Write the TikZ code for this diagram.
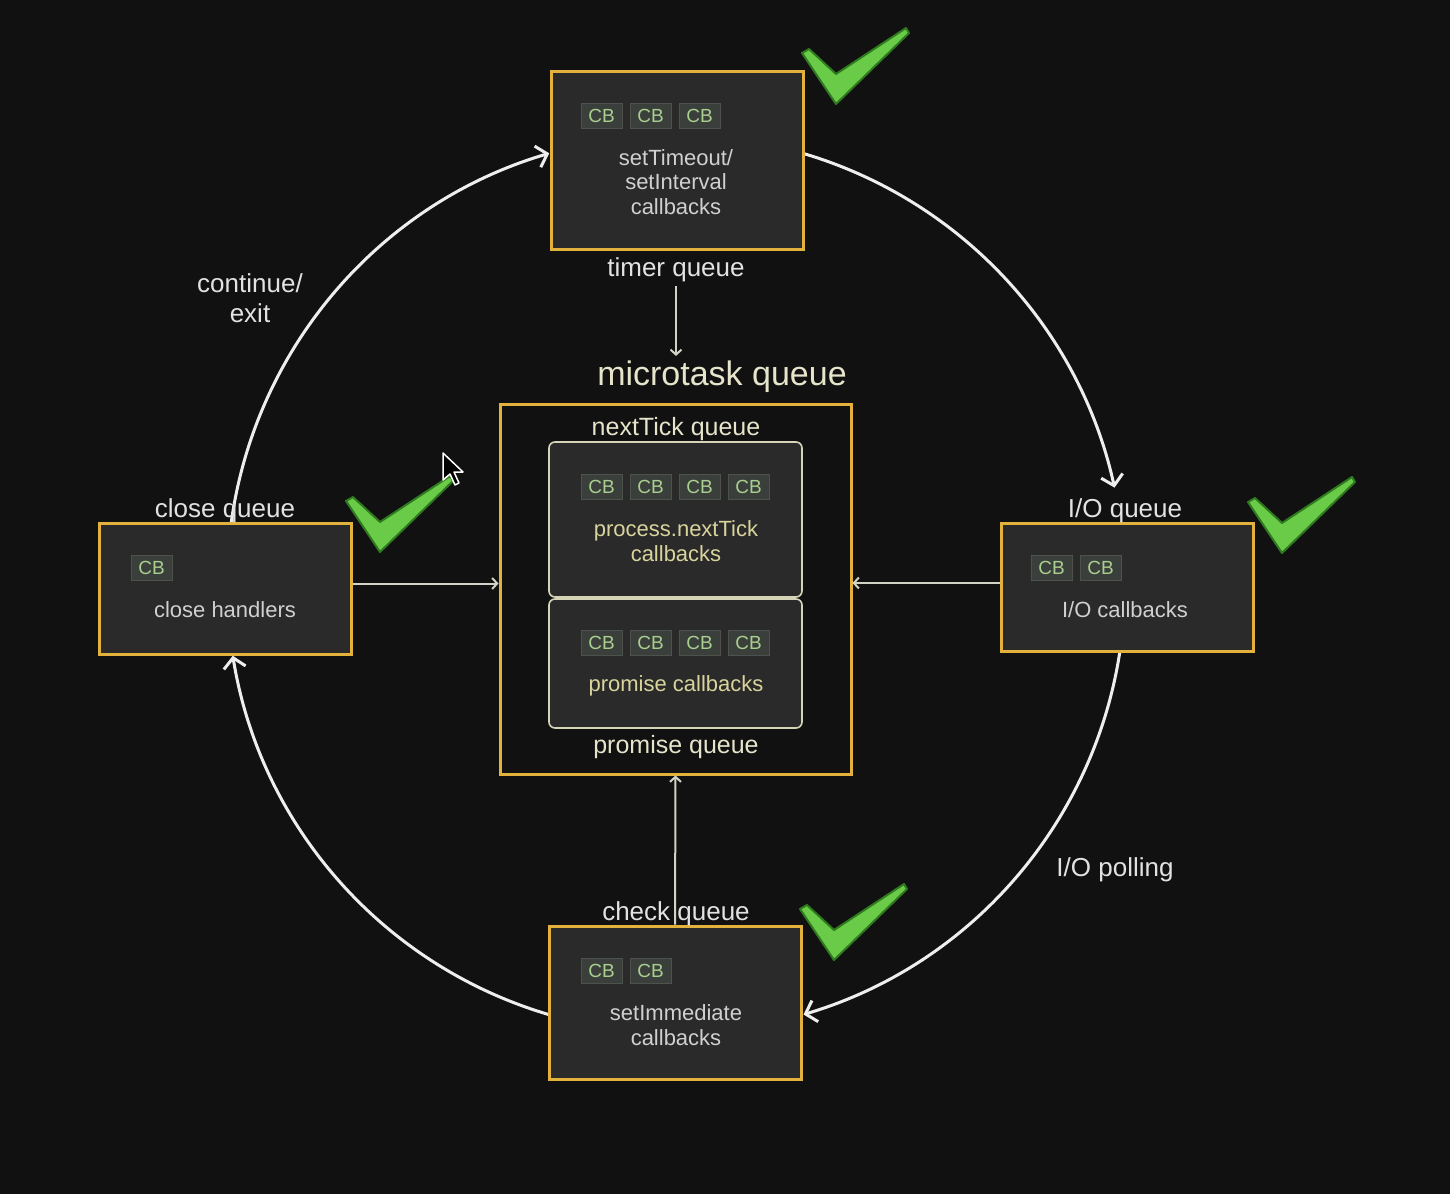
\documentclass[tikz,border=0pt]{standalone}
\usepackage{fontspec}
\setmainfont{Liberation Sans}
\usetikzlibrary{arrows.meta,calc}
\definecolor{bg}{HTML}{111111}
\definecolor{boxfill}{HTML}{2A2A2A}
\definecolor{qyellow}{HTML}{E3B23C}
\definecolor{innertxt}{HTML}{D0D0D0}
\definecolor{lbltxt}{HTML}{E2E2E2}
\definecolor{cream}{HTML}{E6E4CA}
\definecolor{creamtxt}{HTML}{D9D49C}
\definecolor{creamborder}{HTML}{D6D4B6}
\definecolor{chipfill}{HTML}{3B3F3B}
\definecolor{chipborder}{HTML}{4D524D}
\definecolor{chiptxt}{HTML}{A9CF8F}
\definecolor{loopcol}{HTML}{EEEEEE}
\definecolor{thincol}{HTML}{D2D2C6}
\definecolor{tickfill}{HTML}{6ACB48}
\definecolor{tickedge}{HTML}{2F7A1F}
\tikzset{
  qbox/.style={draw=qyellow, line width=3pt, fill=boxfill, inner sep=0pt},
  microbox/.style={draw=qyellow, line width=3pt, fill=bg, inner sep=0pt},
  innerbox/.style={draw=creamborder, line width=1.6pt, fill=boxfill, rounded corners=6pt, inner sep=0pt},
  cb/.style={draw=chipborder, line width=1pt, fill=chipfill, text=chiptxt, minimum width=41pt, minimum height=25pt, inner sep=0pt, font=\fontsize{19}{19}\selectfont},
  intext/.style={text=innertxt, align=center, inner sep=0pt, font=\fontsize{22}{24.5}\selectfont},
  crtext/.style={text=creamtxt, align=center, inner sep=0pt, font=\fontsize{22}{24.5}\selectfont},
  lbl/.style={text=lbltxt, align=center, inner sep=0pt, font=\fontsize{26}{30}\selectfont},
  crlbl/.style={text=cream, align=center, inner sep=0pt, font=\fontsize{25}{30}\selectfont},
  looparrow/.style={draw=loopcol, line width=3pt, -{Straight Barb[length=10pt,width=22pt]}},
  thinarrow/.style={draw=thincol, line width=2pt, -{Straight Barb[length=5pt,width=11pt]}},
  tick/.style={fill=tickfill, draw=tickedge, line width=2pt, line join=round}
}
\newcommand\drawtick[1]{%
  \filldraw[tick, shift={#1}] (0,0) -- (-34,-51) -- (-27,-55) -- (0,-30) -- (70,-76) -- (73,-71) -- cycle;}
\begin{document}
\begin{tikzpicture}[x=1pt,y=-1pt]
\fill[bg] (0,0) rectangle (1450,1194);
\useasboundingbox (0,0) rectangle (1450,1194);

% circle centre
\coordinate (O) at (676,584);
\coordinate (a1s) at ($(O)+(-172.1:449)$);
\coordinate (a2s) at ($(O)+(-73.4:449)$);
\coordinate (a3s) at ($(O)+(8.7:449)$);
\coordinate (a4s) at ($(O)+(106.5:449)$);

% loop arcs
\draw[looparrow] (a1s) arc[start angle=-172.1, end angle=-106.4, radius=449];
\draw[looparrow] (a2s) arc[start angle=-73.4, end angle=-12.4, radius=449];
\draw[looparrow] (a3s) arc[start angle=8.7, end angle=73.5, radius=449];
\draw[looparrow] (a4s) arc[start angle=106.5, end angle=170.8, radius=449];

% boxes
\node[qbox, minimum width=252pt, minimum height=178pt] (timer) at (677,160) {};
\node[microbox, minimum width=351pt, minimum height=370pt] (micro) at (675.5,589) {};
\node[innerbox, minimum width=253pt, minimum height=155pt] (ntbox) at (675.5,519.5) {};
\node[innerbox, minimum width=253pt, minimum height=129pt] (prbox) at (675.5,663.5) {};
\node[qbox, minimum width=252pt, minimum height=131pt] (close) at (225,588.5) {};
\node[qbox, minimum width=252pt, minimum height=128pt] (io) at (1127,587) {};
\node[qbox, minimum width=252pt, minimum height=153pt] (check) at (675,1002.5) {};

% chips
\node[cb] (t1) at (601.5,115.5) {CB};
\node[cb] (t2) at (650.5,115.5) {CB};
\node[cb] (t3) at (699.5,115.5) {CB};
\node[cb] (n1) at (601.5,486.5) {CB};
\node[cb] (n2) at (650.5,486.5) {CB};
\node[cb] (n3) at (699.5,486.5) {CB};
\node[cb] (n4) at (748.5,486.5) {CB};
\node[cb] (p1) at (601.5,642.5) {CB};
\node[cb] (p2) at (650.5,642.5) {CB};
\node[cb] (p3) at (699.5,642.5) {CB};
\node[cb] (p4) at (748.5,642.5) {CB};
\node[cb] (c1) at (151.5,567.5) {CB};
\node[cb] (i1) at (1051.5,567.5) {CB};
\node[cb] (i2) at (1100.5,567.5) {CB};
\node[cb] (k1) at (601.5,970.5) {CB};
\node[cb] (k2) at (650.5,970.5) {CB};

% texts
\node[intext] (timertxt) at (676,182) {setTimeout/\\setInterval\\callbacks};
\node[lbl] (timerlbl) at (676,270) {timer queue};
\node[crlbl, font=\fontsize{34}{40}\selectfont] (microlbl) at (722,377) {microtask queue};
\node[crlbl] (ntlbl) at (676,429) {nextTick queue};
\node[crtext] (nttxt) at (676,541) {process.nextTick\\callbacks};
\node[crtext] (prtxt) at (676,686) {promise callbacks};
\node[crlbl] (prlbl) at (676,747) {promise queue};
\node[lbl] (closelbl) at (225,511) {close queue};
\node[intext] (closetxt) at (225,610) {close handlers};
\node[lbl] (iolbl) at (1125,511) {I/O queue};
\node[intext] (iotxt) at (1125,610) {I/O callbacks};
\node[lbl] (checklbl) at (676,914) {check queue};
\node[intext] (checktxt) at (676,1025) {setImmediate\\callbacks};
\node[lbl] (contlbl) at (250,298) {continue/\\exit};
\node[lbl] (polllbl) at (1115,870) {I/O polling};

% straight connectors
\draw[thinarrow] (timerlbl.south) ++(0,4) -- ([yshift=5pt]timerlbl |- microlbl.north);
\draw[thinarrow] ([yshift=5pt]close.east) -- ([yshift=5pt]close.east -| micro.west);
\draw[thinarrow] ([yshift=4pt]io.west) -- ([yshift=4pt]io.west -| micro.east);
\draw[thinarrow] (check.north) -- (micro.south);

% ticks
\drawtick{(836,104)}
\drawtick{(380,552)}
\drawtick{(1282,553)}
\drawtick{(834,960)}

% mouse cursor
\filldraw[fill=black, draw=white, line width=1.5pt, line join=round, shift={(443,453)}]
  (0,0) -- (0,27) -- (7,21) -- (12,32) -- (16,30) -- (11,19) -- (20,19) -- cycle;
\end{tikzpicture}
\end{document}
